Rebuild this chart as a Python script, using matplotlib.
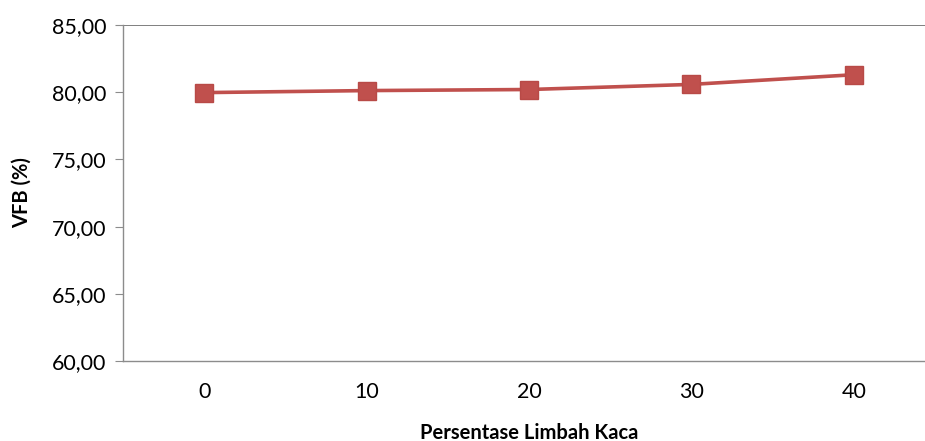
import matplotlib.pyplot as plt
from matplotlib.ticker import FuncFormatter

persen_kaca = ["0", "10", "20", "30", "40"]
vfb = [79.97, 80.12, 80.2, 80.58, 81.3]

plt.rcParams['font.family'] = ['Lato', 'DejaVu Sans']

fig = plt.figure(figsize=(9.25, 4.41), dpi=100)
ax = fig.add_axes([123 / 925, 1 - 361 / 441, 812 / 925, 336 / 441])

x = range(len(persen_kaca))
ax.plot(x, vfb, color="#C0504D", linewidth=2.6, marker="s", markersize=13,
        markerfacecolor="#C0504D", markeredgecolor="#B84A47", clip_on=False)

ax.set_xlim(-0.5, 4.5)
ax.set_ylim(60, 85)
ax.set_yticks([60, 65, 70, 75, 80, 85])
ax.yaxis.set_major_formatter(FuncFormatter(lambda v, p: f"{v:.2f}".replace(".", ",")))
ax.set_xticks(list(x))
ax.set_xticklabels(persen_kaca)

ax.axhline(85, color="#7F7F7F", linewidth=1.4, zorder=0)
for side in ["top", "right"]:
    ax.spines[side].set_visible(False)
for side in ["left", "bottom"]:
    ax.spines[side].set_color("#8C8C8C")
    ax.spines[side].set_linewidth(1.0)

ax.tick_params(axis="y", length=6, color="#8C8C8C", labelsize=15.5, pad=6)
ax.tick_params(axis="x", length=0, labelsize=15.5, pad=15)

ax.set_xlabel("Persentase Limbah Kaca", fontsize=14.5, fontweight="bold", labelpad=15)
ax.set_ylabel("VFB (%)", fontsize=14.5, fontweight="bold", labelpad=14)

fig.savefig("out.png", dpi=100)
